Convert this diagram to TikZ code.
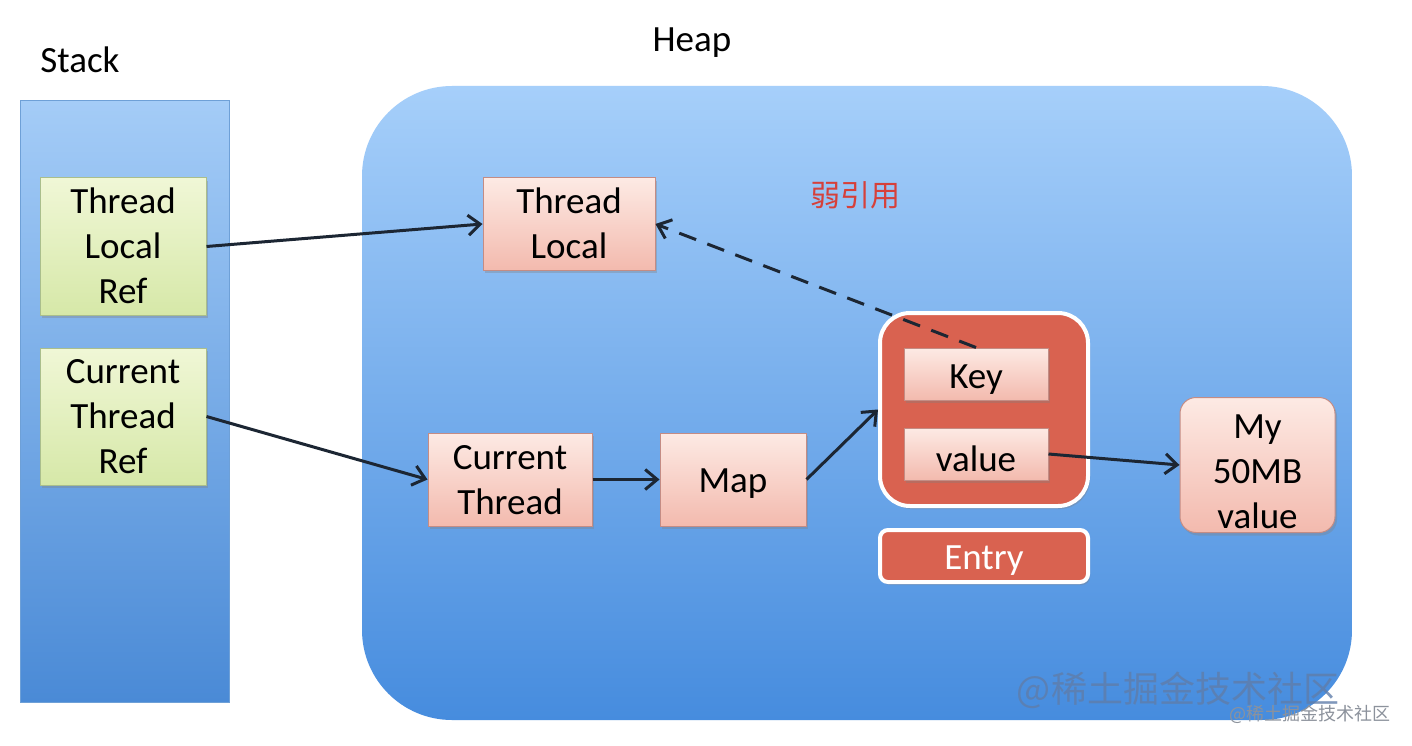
\documentclass[tikz,border=0pt]{standalone}
\usepackage{fontspec}
\setmainfont{Carlito}
\newfontfamily\cjk{Noto Sans CJK SC}
\usetikzlibrary{arrows.meta,shadows}
\definecolor{stacktop}{RGB}{164,204,247}
\definecolor{stackbot}{RGB}{74,138,214}
\definecolor{stackedge}{RGB}{110,160,215}
\definecolor{heaptop}{RGB}{166,207,250}
\definecolor{heapbot}{RGB}{70,140,222}
\definecolor{greentop}{RGB}{240,247,214}
\definecolor{greenbot}{RGB}{214,232,168}
\definecolor{greenedge}{RGB}{170,190,140}
\definecolor{pinktop}{RGB}{253,234,228}
\definecolor{pinkbot}{RGB}{243,186,174}
\definecolor{pinkedge}{RGB}{196,140,132}
\definecolor{coral}{RGB}{217,98,80}
\definecolor{weakred}{RGB}{214,64,58}
\definecolor{ink}{RGB}{28,38,51}
\definecolor{wmark}{RGB}{95,125,170}
\definecolor{wsmall}{RGB}{140,146,156}
\newcommand{\lowered}[2]{\raisebox{-#1}[\height][\depth]{#2}}
\begin{document}
\begin{tikzpicture}[x=1pt,y=-1pt,
  lbl/.style={font=\fontsize{37}{45}\selectfont, align=center, inner sep=0pt, text=black},
  shad/.style={drop shadow={opacity=0.35, shadow xshift=2pt, shadow yshift=-3pt}},
  greenbox/.style={lbl, draw=greenedge, line width=1pt, top color=greentop, bottom color=greenbot, shad},
  pinkbox/.style={lbl, draw=pinkedge, line width=1pt, top color=pinktop, bottom color=pinkbot, shad},
  arr/.style={draw=ink, line width=3pt, -{Straight Barb[length=12pt,width=20pt,line width=3pt]}},
  dasharr/.style={arr, dash pattern=on 18pt off 12pt}
]
\useasboundingbox (0,0) rectangle (1412,746);
\fill[white] (0,0) rectangle (1412,746);

% Stack
\node[lbl, anchor=center] (stacklbl) at (80,60) {Stack};
\path[draw=stackedge, line width=1pt, top color=stacktop, bottom color=stackbot] (20,101) rectangle (229,702);
\node[greenbox, minimum width=166pt, minimum height=137pt] (tlref) at (123,246.5) {\lowered{3pt}{\begin{tabular}{@{}c@{}}Thread\\Local\\Ref\end{tabular}}};
\node[greenbox, minimum width=166pt, minimum height=137pt] (ctref) at (123,416.5) {\lowered{3pt}{\begin{tabular}{@{}c@{}}Current\\Thread\\Ref\end{tabular}}};

% Heap
\node[lbl] (heaplbl) at (692,43) {Heap};
\path[top color=heaptop, bottom color=heapbot, rounded corners=90pt] (362,86) rectangle (1352,720);

\node[pinkbox, minimum width=172pt, minimum height=92pt] (tl) at (569,224) {\lowered{3pt}{\begin{tabular}{@{}c@{}}Thread\\Local\end{tabular}}};
\node[pinkbox, minimum width=164pt, minimum height=93pt] (ct) at (510,479.5) {\lowered{3pt}{\begin{tabular}{@{}c@{}}Current\\Thread\end{tabular}}};
\node[pinkbox, minimum width=146pt, minimum height=93pt] (map) at (733,479.5) {\lowered{4pt}{Map}};

\node[lbl, text=weakred, font=\cjk\fontsize{30}{36}\selectfont] (weak) at (855,195) {弱引用};

\node[draw=white, line width=4pt, fill=coral, rounded corners=30pt, minimum width=208pt, minimum height=193pt, shad] (entry) at (984,409.5) {};
\node[pinkbox, minimum width=144pt, minimum height=52pt] (key) at (976,374) {\lowered{6pt}{Key}};
\node[pinkbox, minimum width=144pt, minimum height=52pt] (val) at (976,454) {\lowered{5pt}{value}};
\node[lbl, draw=white, line width=4pt, fill=coral, rounded corners=8pt, minimum width=208pt, minimum height=52pt, text=white, shad] (entrylbl) at (984,556) {\raisebox{-13pt}[0pt][0pt]{Entry}};

\node[pinkbox, rounded corners=16pt, minimum width=155pt, minimum height=130pt] (my) at (1257.5,465) {\lowered{9pt}{\begin{tabular}{@{}c@{}}My\\50MB\\value\end{tabular}}};

% connectors
\draw[arr] (tlref.east) -- (tl.west);
\draw[arr] (ctref.east) -- (ct.west);
\draw[arr] (ct.east) -- (map.west);
\draw[arr] (map.east) -- (entry.west);
\draw[arr] (val.east) -- (my.west);
\draw[dasharr] (key.north) -- (tl.east);

% watermarks
\node[lbl, font=\cjk\fontsize{36}{40}\selectfont, text=wmark, opacity=0.8] (wm1) at (1178,690) {@稀土掘金技术社区};
\node[lbl, font=\cjk\fontsize{18}{20}\selectfont, text=wsmall] (wm2) at (1310,714) {@稀土掘金技术社区};
\end{tikzpicture}
\end{document}
